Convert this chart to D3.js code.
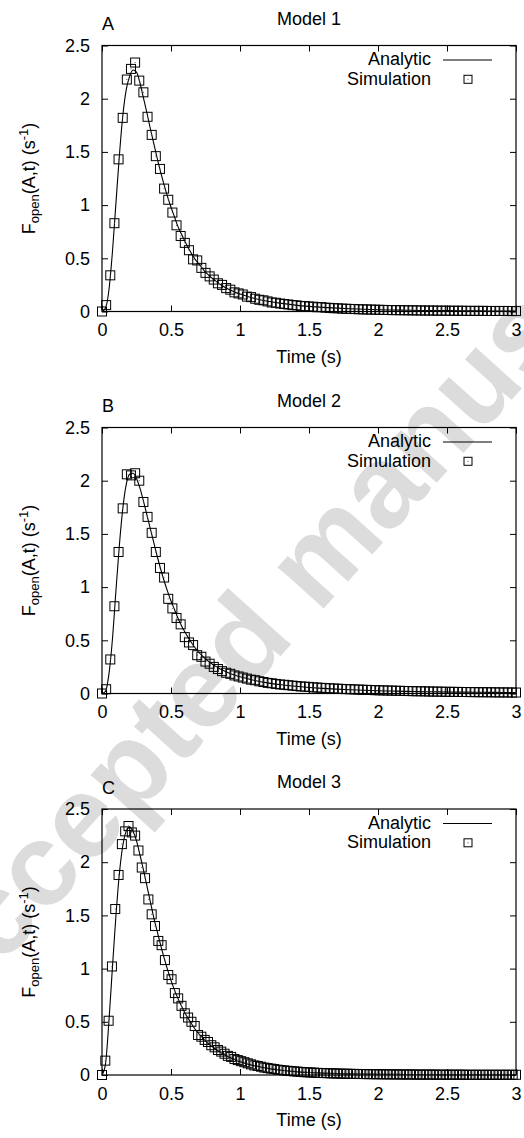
<!DOCTYPE html>
<html>
<head>
<meta charset="utf-8">
<script src="https://cdn.jsdelivr.net/npm/d3@7"></script>
<style>
  body { margin: 0; background: #fff; }
  svg { display: block; }
  text { font-family: "Liberation Sans", Arial, Helvetica, sans-serif; }
</style>
</head>
<body>
<svg id="chart" width="524" height="1138"></svg>
<script>
// ---- data ----
const models = ["Model 1", "Model 2", "Model 3"];
const panelLetters = ["A", "B", "C"];
const xTicks = [0, 0.5, 1, 1.5, 2, 2.5, 3];
const xTickLabels = ["0", "0.5", "1", "1.5", "2", "2.5", "3"];
const yTicks = [0, 0.5, 1, 1.5, 2, 2.5];
const yTickLabels = ["0", "0.5", "1", "1.5", "2", "2.5"];
const legendLabels = ["Analytic", "Simulation"];

// time points of the analytic curves (s)
const analyticTime = [
  0, 0.025, 0.05, 0.075, 0.1, 0.125, 0.15, 0.175, 0.2, 0.225,
  0.25, 0.275, 0.3, 0.325, 0.35, 0.375, 0.4, 0.425, 0.45, 0.475,
  0.5, 0.525, 0.55, 0.575, 0.6, 0.625, 0.65, 0.675, 0.7, 0.725,
  0.75, 0.775, 0.8, 0.825, 0.85, 0.875, 0.9, 0.925, 0.95, 0.975,
  1.0, 1.1, 1.2, 1.3, 1.4, 1.5, 1.6, 1.7, 1.8, 1.9,
  2.0, 2.1, 2.2, 2.3, 2.4, 2.5, 2.6, 2.7, 2.8, 2.9, 3.0
];
const analytic1 = [
  0, 0.03, 0.2, 0.55, 1.0, 1.45, 1.83, 2.08, 2.21, 2.27,
  2.25, 2.15, 2.01, 1.87, 1.72, 1.58, 1.44, 1.31, 1.19, 1.08,
  0.98, 0.89, 0.8, 0.73, 0.66, 0.6, 0.54, 0.49, 0.45, 0.41,
  0.37, 0.34, 0.31, 0.285, 0.26, 0.24, 0.22, 0.205, 0.19, 0.175,
  0.165, 0.125, 0.097, 0.076, 0.06, 0.048, 0.039, 0.032, 0.026, 0.021,
  0.017, 0.014, 0.012, 0.010, 0.009, 0.008, 0.007, 0.006, 0.005, 0.005, 0.004
];
const analytic2 = [
  0, 0.02, 0.18, 0.5, 0.95, 1.38, 1.73, 1.96, 2.06, 2.07,
  2.02, 1.93, 1.81, 1.68, 1.55, 1.42, 1.29, 1.17, 1.06, 0.96,
  0.87, 0.79, 0.71, 0.64, 0.58, 0.525, 0.475, 0.43, 0.39, 0.355,
  0.325, 0.3, 0.275, 0.255, 0.235, 0.218, 0.203, 0.19, 0.178, 0.167,
  0.157, 0.125, 0.1, 0.082, 0.068, 0.057, 0.048, 0.041, 0.035, 0.03,
  0.026, 0.023, 0.02, 0.018, 0.016, 0.014, 0.013, 0.012, 0.011, 0.01, 0.009
];
const analytic3 = [
  0, 0.1, 0.5, 1.0, 1.48, 1.88, 2.15, 2.29, 2.33, 2.29,
  2.2, 2.07, 1.93, 1.78, 1.63, 1.48, 1.35, 1.22, 1.1, 0.99,
  0.89, 0.8, 0.72, 0.65, 0.585, 0.53, 0.48, 0.43, 0.39, 0.355,
  0.32, 0.29, 0.265, 0.24, 0.22, 0.2, 0.18, 0.165, 0.15, 0.137,
  0.125, 0.088, 0.062, 0.044, 0.032, 0.024, 0.018, 0.014, 0.011, 0.009,
  0.007, 0.006, 0.005, 0.004, 0.004, 0.003, 0.003, 0.003, 0.002, 0.002, 0.002
];

// sampling times of the simulations (s)
const simTime12 = [
  0, 0.03, 0.06, 0.09, 0.12, 0.15, 0.18, 0.21, 0.24, 0.27,
  0.3, 0.33, 0.36, 0.39, 0.42, 0.45, 0.48, 0.51, 0.54, 0.57,
  0.6, 0.63, 0.66, 0.69, 0.72, 0.75, 0.78, 0.81, 0.84, 0.87,
  0.9, 0.93, 0.96, 0.99, 1.02, 1.05, 1.08, 1.11, 1.14, 1.17,
  1.2, 1.23, 1.26, 1.29, 1.32, 1.35, 1.38, 1.41, 1.44, 1.47,
  1.5, 1.53, 1.56, 1.59, 1.62, 1.65, 1.68, 1.71, 1.74, 1.77,
  1.8, 1.83, 1.86, 1.89, 1.92, 1.95, 1.98, 2.01, 2.04, 2.07,
  2.1, 2.13, 2.16, 2.19, 2.22, 2.25, 2.28, 2.31, 2.34, 2.37,
  2.4, 2.43, 2.46, 2.49, 2.52, 2.55, 2.58, 2.61, 2.64, 2.67,
  2.7, 2.73, 2.76, 2.79, 2.82, 2.85, 2.88, 2.91, 2.94, 2.97,
  3.0
];
const simTime3 = [
  0, 0.024, 0.048, 0.072, 0.096, 0.12, 0.144, 0.168, 0.192, 0.216, 0.24, 0.264, 0.288,
  0.312, 0.336, 0.36, 0.384, 0.408, 0.432, 0.456, 0.48, 0.504, 0.528, 0.552, 0.576,
  0.6, 0.624, 0.648, 0.672, 0.696, 0.72, 0.744, 0.768, 0.792, 0.816, 0.84, 0.864, 0.888,
  0.912, 0.936, 0.96, 0.984, 1.008, 1.032, 1.056, 1.08, 1.104, 1.128, 1.152, 1.176,
  1.2, 1.224, 1.248, 1.272, 1.296, 1.32, 1.344, 1.368, 1.392, 1.416, 1.44, 1.464, 1.488,
  1.512, 1.536, 1.56, 1.584, 1.608, 1.632, 1.656, 1.68, 1.704, 1.728, 1.752, 1.776,
  1.8, 1.824, 1.848, 1.872, 1.896, 1.92, 1.944, 1.968, 1.992, 2.016, 2.04, 2.064, 2.088,
  2.112, 2.136, 2.16, 2.184, 2.208, 2.232, 2.256, 2.28, 2.304, 2.328, 2.352, 2.376,
  2.4, 2.424, 2.448, 2.472, 2.496, 2.52, 2.544, 2.568, 2.592, 2.616, 2.64, 2.664, 2.688,
  2.712, 2.736, 2.76, 2.784, 2.808, 2.832, 2.856, 2.88, 2.904, 2.928, 2.952, 2.976,
  3.0
];
const sim1 = [
  0, 0.06, 0.34, 0.83, 1.43, 1.82, 2.18, 2.28, 2.34, 2.17,
  2.06, 1.83, 1.66, 1.46, 1.34, 1.155, 1.05, 0.93, 0.81, 0.71,
  0.645, 0.576, 0.49, 0.48, 0.41, 0.363, 0.33, 0.30, 0.265, 0.25,
  0.22, 0.205, 0.18, 0.17, 0.16, 0.14, 0.135, 0.12, 0.11, 0.105,
  0.095, 0.085, 0.082, 0.075, 0.07, 0.066, 0.06, 0.058, 0.052, 0.05,
  0.047, 0.045, 0.04, 0.041, 0.036, 0.034, 0.031, 0.03, 0.027, 0.026,
  0.024, 0.023, 0.021, 0.02, 0.019, 0.018, 0.017, 0.016, 0.015, 0.014,
  0.013, 0.013, 0.012, 0.012, 0.011, 0.011, 0.01, 0.01, 0.009, 0.009,
  0.009, 0.008, 0.008, 0.008, 0.007, 0.007, 0.007, 0.007, 0.006, 0.006,
  0.006, 0.006, 0.006, 0.005, 0.005, 0.005, 0.005, 0.005, 0.005, 0.004,
  0.004
];
const sim2 = [
  0, 0.04, 0.32, 0.82, 1.33, 1.74, 2.06, 2.05, 2.07, 2.0,
  1.8, 1.66, 1.51, 1.33, 1.18, 1.09, 0.89, 0.8, 0.71, 0.65,
  0.53, 0.48, 0.455, 0.36, 0.345, 0.3, 0.28, 0.25, 0.23, 0.21,
  0.195, 0.185, 0.17, 0.16, 0.15, 0.14, 0.13, 0.125, 0.115, 0.108,
  0.1, 0.096, 0.09, 0.085, 0.082, 0.078, 0.074, 0.07, 0.066, 0.064,
  0.062, 0.058, 0.056, 0.053, 0.051, 0.049, 0.047, 0.045, 0.043, 0.041,
  0.04, 0.038, 0.037, 0.035, 0.034, 0.033, 0.031, 0.03, 0.029, 0.028,
  0.027, 0.026, 0.025, 0.024, 0.023, 0.022, 0.021, 0.021, 0.02, 0.019,
  0.018, 0.018, 0.017, 0.016, 0.016, 0.015, 0.015, 0.014, 0.014, 0.013,
  0.013, 0.012, 0.012, 0.012, 0.011, 0.011, 0.01, 0.01, 0.01, 0.009,
  0.009
];
const sim3 = [
  0, 0.135, 0.51, 1.02, 1.56, 1.88, 2.17, 2.29, 2.34, 2.28,
  2.25, 2.11, 1.95, 1.85, 1.65, 1.51, 1.40, 1.26, 1.22, 1.08,
  0.94, 0.90, 0.77, 0.72, 0.65, 0.58, 0.54, 0.50, 0.46, 0.376,
  0.36, 0.33, 0.31, 0.28, 0.26, 0.235, 0.22, 0.2, 0.18, 0.17,
  0.15, 0.14, 0.13, 0.12, 0.11, 0.1, 0.09, 0.085, 0.078, 0.07,
  0.065, 0.06, 0.056, 0.05, 0.047, 0.043, 0.04, 0.037, 0.034, 0.032,
  0.029, 0.027, 0.025, 0.024, 0.022, 0.02, 0.019, 0.018, 0.017, 0.016,
  0.015, 0.014, 0.013, 0.012, 0.012, 0.011, 0.01, 0.01, 0.009, 0.009,
  0.008, 0.008, 0.008, 0.007, 0.007, 0.007, 0.006, 0.006, 0.006, 0.006,
  0.005, 0.005, 0.005, 0.005, 0.005, 0.004, 0.004, 0.004, 0.004, 0.004,
  0.004, 0.003, 0.003, 0.003, 0.003, 0.003, 0.003, 0.003, 0.003, 0.003,
  0.002, 0.002, 0.002, 0.002, 0.002, 0.002, 0.002, 0.002, 0.002, 0.002,
  0.002, 0.002, 0.002, 0.002, 0.002, 0.002
];

const panels = [
  { title: models[0], letter: panelLetters[0], analytic: analytic1, simT: simTime12, sim: sim1 },
  { title: models[1], letter: panelLetters[1], analytic: analytic2, simT: simTime12, sim: sim2 },
  { title: models[2], letter: panelLetters[2], analytic: analytic3, simT: simTime3, sim: sim3 }
];

// ---- layout ----
const plotLeft = 102, plotRight = 516;
const plotH = 266;
const panelTops = [45.5, 427.5, 809];
const fontSize = 18;
const tickLen = 6;

const svg = d3.select("#chart");

// faint diagonal watermark behind everything
svg.append("text")
  .attr("transform", "translate(-56,1030) rotate(-48)")
  .attr("font-size", 117)
  .attr("font-weight", "bold")
  .attr("fill", "#dcdcdc")
  .text("Accepted manuscript");

const x = d3.scaleLinear().domain([0, 3]).range([plotLeft, plotRight]);
const y = d3.scaleLinear().domain([0, 2.5]).range([plotH, 0]);

const line = d3.line()
  .x(d => x(d[0]))
  .y(d => y(d[1]))
  .curve(d3.curveMonotoneX);

function styleAxis(g) {
  g.attr("font-size", fontSize).attr("font-family", null);
  g.select(".domain").remove();
  g.selectAll(".tick line").attr("stroke", "#000").attr("stroke-width", 1);
  g.selectAll(".tick text").attr("fill", "#000");
}

const sq = 9;     // marker size in plot
const sqLeg = 8;  // marker size in legend

function marker(g, cx, cy, s) {
  g.append("rect")
    .attr("x", cx - s / 2).attr("y", cy - s / 2)
    .attr("width", s).attr("height", s)
    .attr("fill", "none").attr("stroke", "#000").attr("stroke-width", 1);
  g.append("rect")
    .attr("x", cx - 0.5).attr("y", cy - 0.5)
    .attr("width", 1).attr("height", 1)
    .attr("fill", "#555");
}

panels.forEach((p, i) => {
  const g = svg.append("g").attr("transform", `translate(0,${panelTops[i]})`);

  // ticks (inward, mirrored on all four sides)
  g.append("g").attr("transform", `translate(0,${plotH})`)
    .call(d3.axisBottom(x).tickValues(xTicks).tickSize(-tickLen).tickPadding(12)
      .tickFormat((d, k) => xTickLabels[k]))
    .call(styleAxis);
  g.append("g")
    .call(d3.axisTop(x).tickValues(xTicks).tickSize(-tickLen).tickFormat(""))
    .call(styleAxis);
  g.append("g").attr("transform", `translate(${plotLeft},0)`)
    .call(d3.axisLeft(y).tickValues(yTicks).tickSize(-tickLen).tickPadding(12)
      .tickFormat((d, k) => yTickLabels[k]))
    .call(styleAxis);
  g.append("g").attr("transform", `translate(${plotRight},0)`)
    .call(d3.axisRight(y).tickValues(yTicks).tickSize(-tickLen).tickFormat(""))
    .call(styleAxis);

  // frame
  g.append("rect")
    .attr("x", plotLeft).attr("y", 0)
    .attr("width", plotRight - plotLeft).attr("height", plotH)
    .attr("fill", "none").attr("stroke", "#000").attr("stroke-width", 1.2);

  // analytic curve
  g.append("path")
    .datum(analyticTime.map((t, k) => [t, p.analytic[k]]))
    .attr("d", line)
    .attr("fill", "none").attr("stroke", "#000").attr("stroke-width", 1.1);

  // simulation markers
  const mg = g.append("g");
  p.simT.forEach((t, k) => marker(mg, x(t), y(p.sim[k]), sq));

  // title and panel letter
  g.append("text")
    .attr("x", (plotLeft + plotRight) / 2).attr("y", -21)
    .attr("text-anchor", "middle").attr("font-size", fontSize)
    .text(p.title);
  g.append("text")
    .attr("x", plotLeft).attr("y", -15.5)
    .attr("font-size", fontSize)
    .text(p.letter);

  // legend
  g.append("text")
    .attr("x", 431).attr("y", 19.5)
    .attr("text-anchor", "end").attr("font-size", fontSize)
    .text(legendLabels[0]);
  g.append("line")
    .attr("x1", 443).attr("x2", 492).attr("y1", 14.5).attr("y2", 14.5)
    .attr("stroke", "#000").attr("stroke-width", 1.1);
  g.append("text")
    .attr("x", 431).attr("y", 39)
    .attr("text-anchor", "end").attr("font-size", fontSize)
    .text(legendLabels[1]);
  marker(g, 468, 33.8, sqLeg);

  // x axis title
  g.append("text")
    .attr("x", (plotLeft + plotRight) / 2).attr("y", plotH + 51)
    .attr("text-anchor", "middle").attr("font-size", fontSize)
    .text("Time (s)");

  // y axis title: F_open(A,t) (s^-1)
  const yt = g.append("text")
    .attr("transform", `translate(35,${plotH / 2}) rotate(-90)`)
    .attr("text-anchor", "middle").attr("font-size", fontSize);
  yt.append("tspan").text("F");
  yt.append("tspan").attr("font-size", 13).attr("dy", 4).text("open");
  yt.append("tspan").attr("dy", -4).text("(A,t) (s");
  yt.append("tspan").attr("font-size", 13).attr("dy", -7).text("-1");
  yt.append("tspan").attr("dy", 7).text(")");
});
</script>
</body>
</html>
